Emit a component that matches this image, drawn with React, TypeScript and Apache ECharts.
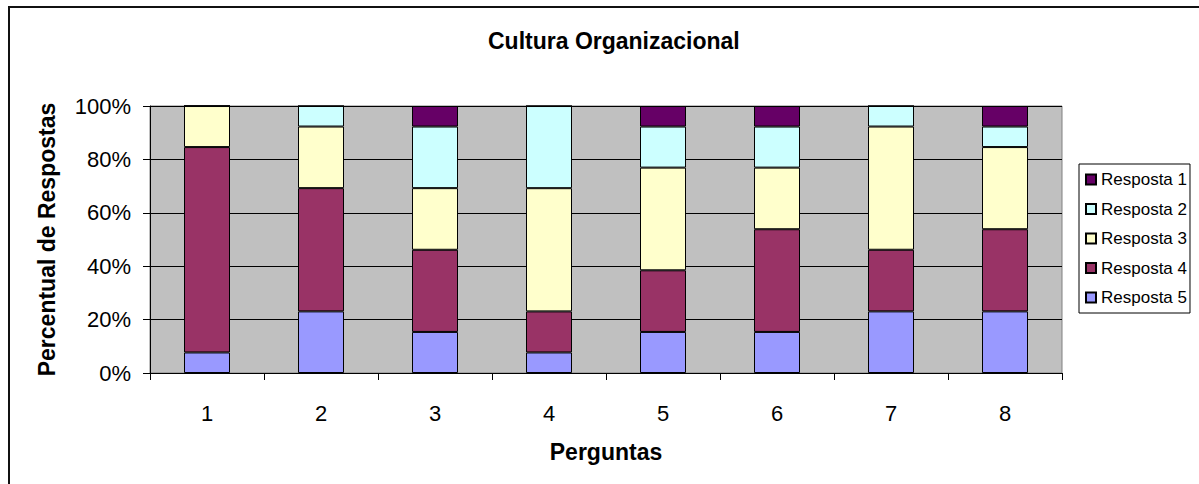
import React, { useEffect, useRef } from "react";
import * as echarts from "echarts";

const categories = ["1", "2", "3", "4", "5", "6", "7", "8"];
const seriesNames = ["Resposta 1", "Resposta 2", "Resposta 3", "Resposta 4", "Resposta 5"];
const resposta5 = [7.69, 23.08, 15.38, 7.69, 15.38, 15.38, 23.08, 23.08];
const resposta4 = [76.92, 46.15, 30.77, 15.38, 23.08, 38.46, 23.08, 30.77];
const resposta3 = [15.38, 23.08, 23.08, 46.15, 38.46, 23.08, 46.15, 30.77];
const resposta2 = [0, 7.69, 23.08, 30.77, 15.38, 15.38, 7.69, 7.69];
const resposta1 = [0, 0, 7.69, 0, 7.69, 7.69, 0, 7.69];
const colors: Record<string, string> = {
  "Resposta 1": "#660066",
  "Resposta 2": "#CCFFFF",
  "Resposta 3": "#FFFFCC",
  "Resposta 4": "#993366",
  "Resposta 5": "#9999FF",
};

const FONT = "'Liberation Sans', Arial, sans-serif";

export default function App() {
  const ref = useRef<HTMLDivElement>(null);
  useEffect(() => {
    if (!ref.current) return;
    const chart = echarts.init(ref.current, undefined, { renderer: "svg" });
    const stackOrder: [string, number[]][] = [
      ["Resposta 5", resposta5],
      ["Resposta 4", resposta4],
      ["Resposta 3", resposta3],
      ["Resposta 2", resposta2],
      ["Resposta 1", resposta1],
    ];
    chart.setOption({
      animation: false,
      backgroundColor: "#ffffff",
      textStyle: { fontFamily: FONT },
      title: {
        text: "Cultura Organizacional",
        left: 483,
        top: 24,
        textStyle: { fontFamily: FONT, fontSize: 23, fontWeight: "bold", color: "#000" },
      },
      graphic: [
        { type: "line", shape: { x1: 8, y1: 7, x2: 1199, y2: 7 }, style: { stroke: "#111", lineWidth: 2 } },
        { type: "line", shape: { x1: 9, y1: 6, x2: 9, y2: 484 }, style: { stroke: "#111", lineWidth: 2 } },
      ],
      legend: {
        orient: "vertical",
        left: 1079,
        top: 164,
        data: seriesNames,
        icon: "rect",
        itemWidth: 10,
        itemHeight: 10,
        itemGap: 12.5,
        padding: [7, 3, 7, 6],
        borderColor: "#000",
        borderWidth: 1,
        backgroundColor: "#fff",
        textStyle: { fontFamily: FONT, fontSize: 17, color: "#000", padding: [0, 0, 0, 0] },
      },
      grid: {
        left: 150,
        top: 106,
        right: 137,
        bottom: 111,
        show: true,
        backgroundColor: "#C0C0C0",
        borderColor: "#808080",
        borderWidth: 1,
      },
      xAxis: {
        type: "category",
        data: categories,
        name: "Perguntas",
        nameLocation: "middle",
        nameGap: 67,
        nameTextStyle: { fontFamily: FONT, fontSize: 23, fontWeight: "bold", color: "#000" },
        axisLine: { lineStyle: { color: "#000", width: 1 } },
        axisTick: { show: true, length: 7, inside: false, lineStyle: { color: "#000" } },
        axisLabel: { fontFamily: FONT, fontSize: 22, color: "#000", margin: 29 },
      },
      yAxis: {
        type: "value",
        min: 0,
        max: 100,
        interval: 20,
        name: "Percentual de Respostas",
        nameLocation: "middle",
        nameGap: 92,
        nameTextStyle: { fontFamily: FONT, fontSize: 23, fontWeight: "bold", color: "#000" },
        axisLine: { show: true, lineStyle: { color: "#000", width: 1 } },
        axisTick: { show: true, length: 7, lineStyle: { color: "#000" } },
        axisLabel: { fontFamily: FONT, fontSize: 22, color: "#000", margin: 19, formatter: (v: number) => `${v}%` },
        splitLine: { show: true, lineStyle: { color: "#000", width: 1 } },
      },
      series: stackOrder.map(([name, values]) => ({
        name,
        type: "bar",
        stack: "total",
        barWidth: 46,
        data: values,
        itemStyle: { color: colors[name], borderColor: "#000", borderWidth: 1 },
      })),
    });
    return () => chart.dispose();
  }, []);
  return (
    <div
      ref={ref}
      style={{ position: "fixed", left: 0, top: 0, width: 1199, height: 484 }}
    />
  );
}
